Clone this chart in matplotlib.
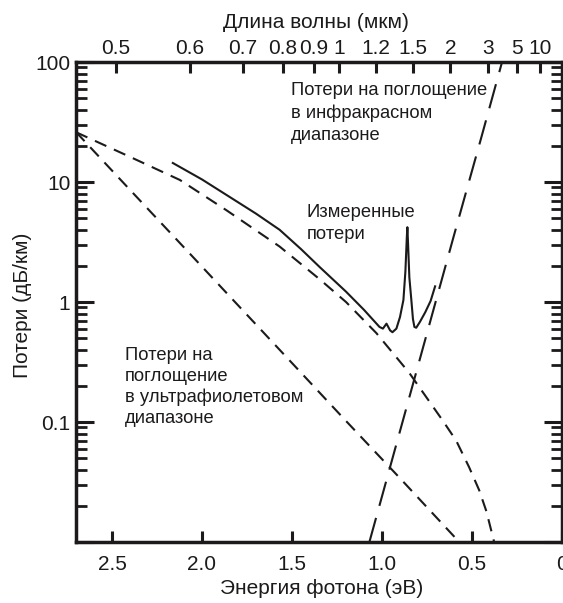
import numpy as np
import matplotlib
matplotlib.use('Agg')
import matplotlib.pyplot as plt
from matplotlib.ticker import LogLocator, NullFormatter, FixedLocator

plt.rcParams['font.family'] = ['Liberation Sans', 'DejaVu Sans']
INK = '#1c1a1a'

# --- данные ---
# измеренные потери (энергия фотона, эВ -> дБ/км)
meas_e = [2.162, 2.0, 1.846, 1.7, 1.569, 1.45, 1.347, 1.2, 1.1, 1.014, 0.995,
          0.975, 0.955, 0.942, 0.92, 0.90, 0.881, 0.87, 0.862, 0.859, 0.855,
          0.848, 0.837, 0.828, 0.82, 0.81, 0.79, 0.76, 0.73, 0.705]
meas_loss = [14.4, 10.5, 7.5, 5.45, 4.0, 2.76, 1.96, 1.22, 0.86, 0.62, 0.60,
             0.66, 0.58, 0.56, 0.6, 0.75, 1.04, 1.8, 3.5, 4.2, 3.0,
             1.6, 1.04, 0.72, 0.62, 0.61, 0.68, 0.82, 1.02, 1.35]

# рэлеевское рассеяние (верхняя штриховая)
ray_e = [2.7, 2.4, 2.123, 1.863, 1.569, 1.347, 1.2, 1.031, 0.848, 0.665,
         0.588, 0.516, 0.46, 0.42, 0.377]
ray_loss = [26, 16.2, 10.4, 5.8, 2.9, 1.55, 1.0, 0.55, 0.256, 0.104,
            0.07, 0.042, 0.027, 0.018, 0.01]

# поглощение в УФ диапазоне
uv_e = [2.7, 2.4, 2.1, 1.8, 1.5, 1.2, 0.9, 0.571]
uv_loss = [26.1, 8.6, 2.85, 0.94, 0.31, 0.102, 0.034, 0.01]

# поглощение в ИК диапазоне
ir_e = [1.07, 0.9, 0.75, 0.6, 0.45, 0.333]
ir_loss = [0.01, 0.084, 0.55, 3.6, 23, 100]

# верхняя шкала: длина волны, мкм
wl_ticks = [0.5, 0.6, 0.7, 0.8, 0.9, 1, 1.2, 1.5, 2, 3, 5, 10]
wl_labels = ['0.5', '0.6', '0.7', '0.8', '0.9', '1', '1.2', '1.5', '2', '3', '5', '10']

x_ticks = [2.5, 2.0, 1.5, 1.0, 0.5, 0]
x_labels = ['2.5', '2.0', '1.5', '1.0', '0.5', '0']

W, H = 563, 603
fig = plt.figure(figsize=(W / 100, H / 100), dpi=100)
ax = fig.add_axes([76 / W, 61 / H, 486 / W, 480 / H])

lw = 1.5
ax.plot(meas_e, meas_loss, color=INK, lw=lw, solid_joinstyle='round')
ax.plot(ray_e, ray_loss, color=INK, lw=lw, dashes=(6, 4))
ax.plot(uv_e, uv_loss, color=INK, lw=lw, dashes=(6, 4))
ax.plot(ir_e, ir_loss, color=INK, lw=lw, dashes=(12, 6))

ax.set_yscale('log')
ax.set_xlim(2.7, 0)
ax.set_ylim(0.01, 100)

ax.set_xticks(x_ticks)
ax.set_xticklabels(x_labels)
ax.yaxis.set_major_locator(FixedLocator([0.01, 0.1, 1, 10, 100]))
ax.set_yticklabels(['', '0.1', '1', '10', '100'])
ax.yaxis.set_minor_locator(LogLocator(base=10, subs=np.arange(2, 10)))
ax.yaxis.set_minor_formatter(NullFormatter())

for s in ax.spines.values():
    s.set_linewidth(2.5)
    s.set_color(INK)

FS = 15
ax.tick_params(axis='x', which='major', direction='in', length=8, width=2.2,
               labelsize=FS, pad=9, colors=INK)
ax.tick_params(axis='y', which='major', direction='in', length=13, width=2.2,
               labelsize=FS, pad=4, right=True, colors=INK)
ax.tick_params(axis='y', which='minor', direction='in', length=8, width=2.0,
               right=True, colors=INK)

# верхняя ось - длина волны
ax2 = ax.twiny()
ax2.set_xlim(ax.get_xlim())
ax2.set_xticks([1.24 / w for w in wl_ticks])
ax2.set_xticklabels(wl_labels)
ax2.tick_params(axis='x', direction='in', length=8, width=2.2, labelsize=FS,
                pad=3, colors=INK)
for s in ax2.spines.values():
    s.set_visible(False)

# подписи осей
fig.text(316 / W, 1 - 22 / H, 'Длина волны (мкм)', fontsize=FS, color=INK,
         ha='center', va='center')
fig.text(322 / W, 1 - 588 / H, 'Энергия фотона (эВ)', fontsize=FS, color=INK,
         ha='center', va='center')
fig.text(22 / W, 1 - 305 / H, 'Потери (дБ/км)', fontsize=FS, color=INK,
         ha='center', va='center', rotation=90)

# подписи кривых
t_kw = dict(fontsize=13.2, color=INK, ha='left', va='top')
fig.text(291 / W, 1 - 82 / H, 'Потери на поглощение\nв инфракрасном\nдиапазоне',
         linespacing=1.4, **t_kw)
fig.text(307 / W, 1 - 204 / H, 'Измеренные\nпотери', linespacing=1.35, **t_kw)
fig.text(125 / W, 1 - 347 / H, 'Потери на\nпоглощение\nв ультрафиолетовом\nдиапазоне',
         linespacing=1.3, **t_kw)

fig.savefig('out.png', dpi=100)
